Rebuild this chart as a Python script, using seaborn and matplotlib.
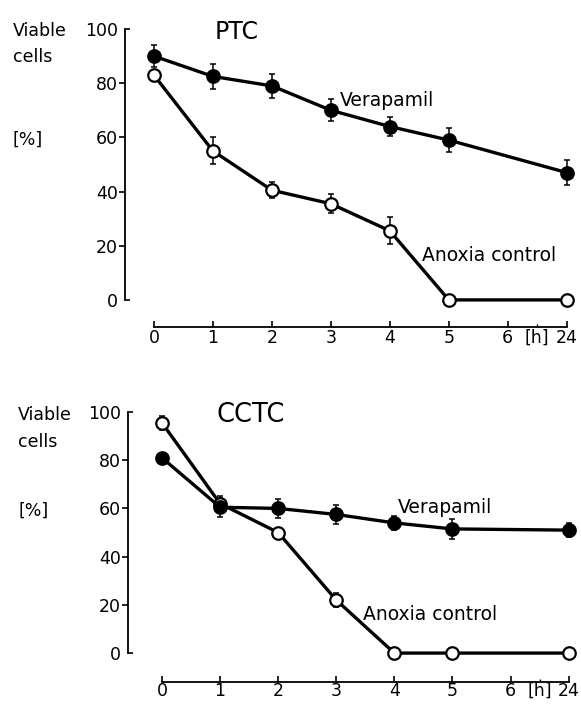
import numpy as np
import pandas as pd
import matplotlib
matplotlib.use("Agg")
import matplotlib.pyplot as plt
import matplotlib.transforms as mtransforms
import seaborn as sns

# ---------------- data ----------------
hours = ["0", "1", "2", "3", "4", "5", "24"]
tick_labels = ["0", "1", "2", "3", "4", "5", "6", "24"]
hour_to_pos = {"0": 0, "1": 1, "2": 2, "3": 3, "4": 4, "5": 5, "6": 6, "24": 7}
y_ticks = [0, 20, 40, 60, 80, 100]

ptc_verapamil = [90, 82.5, 79, 70, 64, 59, 47]
ptc_verapamil_err = [4, 4.5, 4.5, 4, 3.5, 4.5, 4.5]
ptc_anoxia = [83, 55, 40.5, 35.5, 25.5, 0, 0]
ptc_anoxia_err = [0, 5, 3, 3.5, 5, 0, 0]

cctc_verapamil = [81, 60.5, 60, 57.5, 54, 51.5, 51]
cctc_verapamil_err = [0, 4, 4, 4, 3, 4, 3]
cctc_anoxia = [95.5, 62, 50, 22, 0, 0, 0]
cctc_anoxia_err = [3, 3, 1.5, 3, 0, 0, 0]

# ---------------- style ----------------
sns.set_theme(style="white")
plt.rcParams["font.family"] = ["DejaVu Sans"]
plt.rcParams["axes.linewidth"] = 1.3

W, H = 581, 704
fig = plt.figure(figsize=(W / 100, H / 100), dpi=100)


def fx(px):
    return px / W


def fy(py):
    return 1 - py / H


def draw_series(ax, x, y, err, filled):
    df = pd.DataFrame({"pos": x, "value": y})
    mask = np.array(err) > 0
    ax.errorbar(np.array(x)[mask], np.array(y)[mask], yerr=np.array(err)[mask],
                fmt="none", ecolor="black", elinewidth=1.1, capsize=2.2,
                capthick=1.1, zorder=2, clip_on=False)
    sns.lineplot(data=df, x="pos", y="value", ax=ax, color="black",
                 linewidth=2.4, marker="o", markersize=9.0,
                 markerfacecolor="black" if filled else "white",
                 markeredgecolor="black", markeredgewidth=1.6,
                 zorder=3, clip_on=False, legend=False)


def panel(left_px, right_px, top_px, bottom_px, xlim, ylim,
          ver, ver_err, ano, ano_err, ver_xy, ano_xy, xpad):
    ax = fig.add_axes([fx(left_px), fy(bottom_px),
                       (right_px - left_px) / W, (bottom_px - top_px) / H])
    ax.set_facecolor("none")
    x = [hour_to_pos[h] for h in hours]
    draw_series(ax, x, ano, ano_err, filled=False)
    draw_series(ax, x, ver, ver_err, filled=True)

    ax.set_xlim(*xlim)
    ax.set_ylim(*ylim)
    sns.despine(ax=ax)
    ax.spines["left"].set_bounds(0, 100)
    ax.spines["bottom"].set_bounds(0, 7)
    ax.spines["left"].set_color("black")
    ax.spines["bottom"].set_color("black")

    ax.set_xticks([hour_to_pos[t] for t in tick_labels])
    ax.set_xticklabels(tick_labels)
    ax.set_xticks([6.5], minor=True)
    ax.set_xticklabels(["[h]"], minor=True)
    ax.set_yticks(y_ticks)
    ax.set_yticklabels([str(v) for v in y_ticks])
    ax.tick_params(axis="y", direction="out", length=4.5, width=1.2,
                   pad=0.5, labelsize=12.5, colors="black", left=True)
    ax.tick_params(axis="x", which="major", direction="in", length=4,
                   width=1.2, pad=xpad, labelsize=12.5, colors="black",
                   bottom=True)
    ax.tick_params(axis="x", which="minor", direction="in", length=2.5,
                   width=1.0, pad=xpad, labelsize=12.5, colors="black",
                   bottom=True)
    ax.set_xlabel("")
    ax.set_ylabel("")
    # end ticks of the y axis point inward (hooks) instead of outward
    yt = ax.yaxis.get_major_ticks()
    yt[0].tick1line.set_visible(False)
    yt[-1].tick1line.set_visible(False)
    tr = mtransforms.blended_transform_factory(ax.transAxes, ax.transData)
    for v in (y_ticks[0], y_ticks[-1]):
        ax.plot([0, 0.012], [v, v], transform=tr, color="black", lw=1.2,
                clip_on=False, solid_capstyle="butt")

    ax.text(ver_xy[0], ver_xy[1], "Verapamil", fontsize=13.5,
            color="black", ha="left", va="baseline")
    ax.text(ano_xy[0], ano_xy[1], "Anoxia control", fontsize=13.5,
            color="black", ha="left", va="baseline")
    return ax


# top panel (PTC)
panel(125, 575, 29, 327, (-0.49, 7.14), (-10, 100),
      ptc_verapamil, ptc_verapamil_err, ptc_anoxia, ptc_anoxia_err,
      (3.15, 71.5), (4.54, 14.4), xpad=1.5)
# bottom panel (CCTC)
panel(128, 575, 412, 682, (-0.585, 7.11), (-12, 100),
      cctc_verapamil, cctc_verapamil_err, cctc_anoxia, cctc_anoxia_err,
      (4.06, 58), (3.46, 13.7), xpad=0)

# side labels and titles
for (x, y, s) in [(13, 36, "Viable"), (13, 62, "cells"), (13, 145, "[%]"),
                  (18, 420, "Viable"), (18, 447, "cells"), (18, 516, "[%]")]:
    fig.text(fx(x), fy(y), s, fontsize=12.5, color="black",
             ha="left", va="baseline")

fig.text(fx(237), fy(39), "PTC", fontsize=17, color="black",
         ha="center", va="baseline")
fig.text(fx(251), fy(422), "CCTC", fontsize=18.5, color="black",
         ha="center", va="baseline")

fig.savefig("out.png", dpi=100, facecolor="white")
